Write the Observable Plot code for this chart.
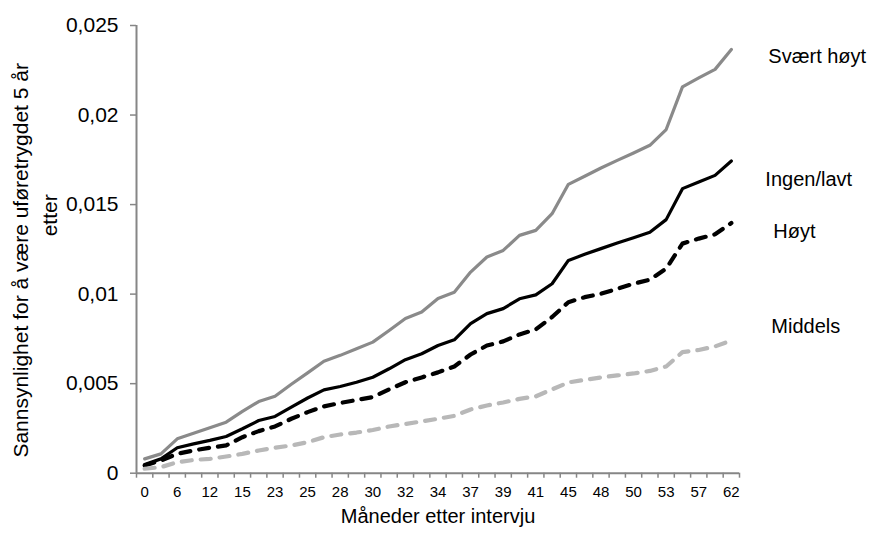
<!DOCTYPE html>
<html>
<head>
<meta charset="utf-8">
<script src="https://cdn.jsdelivr.net/npm/d3@7"></script>
<script src="https://cdn.jsdelivr.net/npm/@observablehq/plot@0.6"></script>
<style>
  html, body { margin: 0; padding: 0; background: #fff; }
  #chart { width: 875px; height: 534px; }
</style>
</head>
<body>
<div id="chart"></div>
<script>
// Category tick labels (every other month category is labelled)
const monthLabels = ["0","","6","","12","","15","","23","","25","","28","","30","","32","","34","","37","","39","","41","","45","","48","","50","","53","","57","","62"];

// Series values (probability), one per category
const svaertHoyt = [0.00080,0.00108,0.00192,0.00223,0.00254,0.00285,0.00345,0.00400,0.00430,0.00497,0.00560,0.00625,0.00658,0.00695,0.00732,0.00797,0.00864,0.00900,0.00976,0.01011,0.01123,0.01207,0.01244,0.01328,0.01356,0.01449,0.01613,0.01658,0.01704,0.01747,0.01788,0.01831,0.01919,0.02157,0.02207,0.02255,0.02366];
const ingenLavt  = [0.00049,0.00080,0.00142,0.00164,0.00183,0.00205,0.00248,0.00294,0.00317,0.00369,0.00420,0.00465,0.00484,0.00508,0.00536,0.00583,0.00634,0.00667,0.00713,0.00745,0.00835,0.00891,0.00919,0.00974,0.00996,0.01058,0.01188,0.01222,0.01254,0.01285,0.01315,0.01346,0.01416,0.01589,0.01626,0.01663,0.01743];
const hoyt       = [0.00043,0.00071,0.00108,0.00127,0.00142,0.00155,0.00201,0.00235,0.00261,0.00304,0.00341,0.00373,0.00392,0.00409,0.00425,0.00468,0.00508,0.00535,0.00563,0.00596,0.00663,0.00713,0.00736,0.00775,0.00803,0.00872,0.00955,0.00983,0.01002,0.01030,0.01058,0.01081,0.01142,0.01282,0.01310,0.01334,0.01397];
const middels    = [0.00025,0.00034,0.00061,0.00074,0.00080,0.00093,0.00108,0.00127,0.00142,0.00155,0.00173,0.00201,0.00216,0.00227,0.00241,0.00261,0.00275,0.00289,0.00304,0.00320,0.00356,0.00378,0.00395,0.00415,0.00429,0.00468,0.00507,0.00521,0.00535,0.00546,0.00557,0.00571,0.00596,0.00676,0.00688,0.00708,0.00741];

const seriesNames = ["Svært høyt", "Ingen/lavt", "Høyt", "Middels"];
const yTicks = [0, 0.005, 0.01, 0.015, 0.02, 0.025];
const yTitle1 = "Sannsynlighet for å være uføretrygdet 5 år";
const yTitle2 = "etter";
const xTitle = "Måneder etter intervju";

const seriesValues = [svaertHoyt, ingenLavt, hoyt, middels];
const n = monthLabels.length;
const idx = d3.range(n);
const toRows = (vals, name) => vals.map((v, i) => ({i, v, name}));

const styles = {
  "Svært høyt": {stroke: "#8a8a8a", strokeWidth: 3.2, dash: null, dx: 37, dy: 7},
  "Ingen/lavt": {stroke: "#000000", strokeWidth: 3.2, dash: null, dx: 34, dy: 19},
  "Høyt":       {stroke: "#000000", strokeWidth: 4.2, dash: "10,9", dx: 42, dy: 9},
  "Middels":    {stroke: "#b8b8b8", strokeWidth: 4.2, dash: "10,9", dx: 40, dy: -14}
};

const axisGray = "#868686";
const fmtComma = d => (d === 0 ? "0" : String(+d.toFixed(3)).replace(".", ","));

const lineMarks = [];
const labelMarks = [];
seriesNames.forEach((name, k) => {
  const s = styles[name];
  const rows = toRows(seriesValues[k], name);
  lineMarks.push(Plot.line(rows, {
    x: "i", y: "v", stroke: s.stroke, strokeWidth: s.strokeWidth,
    strokeDasharray: s.dash || undefined, strokeLinecap: "round", strokeLinejoin: "round"
  }));
  labelMarks.push(Plot.text([rows[rows.length - 1]], {
    x: "i", y: "v", text: d => d.name, textAnchor: "start",
    dx: s.dx, dy: s.dy, fontSize: 20, fill: "#000"
  }));
});

const chart = Plot.plot({
  width: 875,
  height: 534,
  marginLeft: 136,
  marginRight: 136,
  marginTop: 25,
  marginBottom: 61.3,
  style: {fontFamily: "'Liberation Sans', Arial, sans-serif", background: "#fff", overflow: "visible"},
  x: {type: "linear", domain: [-0.5, n - 0.5], axis: null},
  y: {domain: [0, 0.025], axis: null},
  marks: [
    // y axis
    Plot.axisY(yTicks, {tickSize: 6, tickPadding: 12, stroke: axisGray, strokeWidth: 1.5,
      tickFormat: fmtComma, fontSize: 21, fill: "#000", label: null}),
    Plot.ruleX([-0.5], {stroke: axisGray, strokeWidth: 2}),
    // x axis: tick marks between categories
    Plot.axisX(d3.range(n + 1).map(i => i - 0.5), {tickSize: 5, stroke: axisGray, strokeWidth: 1.5,
      tickFormat: () => "", label: null}),
    // x axis: category labels (every other)
    Plot.axisX(idx.filter(i => monthLabels[i] !== ""), {tickSize: 0, tickPadding: 13,
      tickFormat: i => monthLabels[i], fontSize: 15, fill: "#000", label: null}),
    Plot.ruleY([0], {stroke: axisGray, strokeWidth: 2}),
    ...lineMarks,
    ...labelMarks,
    // titles
    Plot.text([yTitle1], {frameAnchor: "left", textAnchor: "middle", rotate: -90, dx: -115, dy: 11, fontSize: 21, fill: "#000"}),
    Plot.text([yTitle2], {frameAnchor: "left", textAnchor: "middle", rotate: -90, dx: -86, dy: -34, fontSize: 21, fill: "#000"}),
    Plot.text([xTitle], {frameAnchor: "bottom", dy: 50, fontSize: 20, fill: "#000"})
  ]
});
document.getElementById("chart").appendChild(chart);
</script>
</body>
</html>
